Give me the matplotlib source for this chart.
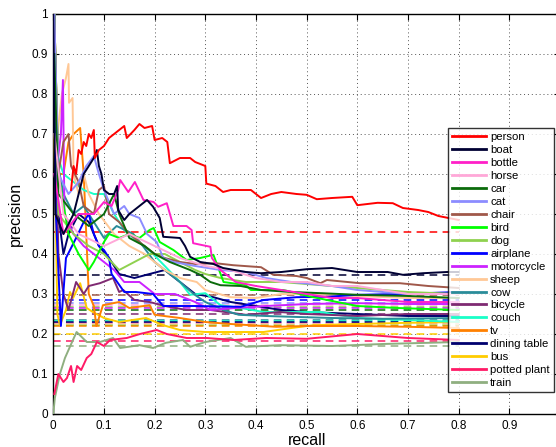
import matplotlib
matplotlib.use("Agg")
import matplotlib.pyplot as plt

# class names in legend order
classes = ["person", "boat", "bottle", "horse", "car", "cat", "chair", "bird", "dog",
           "airplane", "motorcycle", "sheep", "cow", "bicycle", "couch", "tv",
           "dining table", "bus", "potted plant", "train"]

colors = ["#FF0000", "#000033", "#FF20C8", "#FFA8D8", "#0B6B0B", "#8C8CFF", "#A0584A",
          "#00FF00", "#8FD14F", "#0000FF", "#CC22FF", "#FFC896", "#2A8C99", "#7F2A72",
          "#19FFC8", "#FF8000", "#00006E", "#FFCC00", "#FF1A66", "#8FAF80"]

# precision level of the dashed line for each class
ap_levels = [0.455, 0.348, 0.228, 0.272, 0.26, 0.278, 0.298, 0.222, 0.268, 0.285,
             0.265, 0.225, 0.235, 0.25, 0.233, 0.22, 0.23, 0.2, 0.183, 0.17]

# recall / precision
person_r = [0.035, 0.04, 0.045, 0.05, 0.055, 0.06, 0.065, 0.07, 0.075, 0.08, 0.082, 0.09, 0.1, 0.11,
            0.12, 0.13, 0.14, 0.145, 0.16, 0.17, 0.18, 0.195, 0.2, 0.215, 0.225, 0.23, 0.25, 0.27,
            0.28, 0.3, 0.302, 0.32, 0.335, 0.35, 0.37, 0.39, 0.4, 0.41, 0.43, 0.45, 0.48, 0.5,
            0.52, 0.55, 0.59, 0.6, 0.64, 0.67, 0.69, 0.72, 0.74, 0.76, 0.78, 0.8]
person_p = [0.56, 0.62, 0.6, 0.66, 0.65, 0.68, 0.67, 0.7, 0.69, 0.71, 0.64, 0.66, 0.67, 0.69,
            0.7, 0.71, 0.72, 0.69, 0.71, 0.725, 0.715, 0.72, 0.685, 0.69, 0.68, 0.627, 0.64, 0.64,
            0.63, 0.62, 0.576, 0.57, 0.555, 0.56, 0.56, 0.56, 0.55, 0.54, 0.55, 0.555, 0.55, 0.548,
            0.537, 0.54, 0.543, 0.522, 0.528, 0.527, 0.515, 0.51, 0.505, 0.495, 0.49, 0.485]

boat_r = [0.0, 0.004, 0.02, 0.04, 0.05, 0.06, 0.07, 0.08, 0.086, 0.09, 0.095, 0.1, 0.11, 0.12,
          0.126, 0.128, 0.14, 0.15, 0.17, 0.185, 0.197, 0.21, 0.217, 0.25, 0.26, 0.27, 0.29,
          0.316, 0.335, 0.38, 0.41, 0.45, 0.5, 0.55, 0.6, 0.66, 0.69, 0.73, 0.777, 0.8]
boat_p = [1.0, 0.5, 0.45, 0.5, 0.55, 0.6, 0.62, 0.64, 0.66, 0.62, 0.6, 0.56, 0.55, 0.55,
          0.57, 0.51, 0.485, 0.5, 0.52, 0.535, 0.518, 0.49, 0.443, 0.44, 0.42, 0.393, 0.38,
          0.375, 0.365, 0.355, 0.352, 0.355, 0.362, 0.365, 0.355, 0.355, 0.348, 0.352, 0.355, 0.355]

bottle_r = [0.002, 0.02, 0.05, 0.08, 0.1, 0.115, 0.128, 0.132, 0.148, 0.161, 0.178, 0.198, 0.207,
            0.224, 0.237, 0.263, 0.273, 0.276, 0.31, 0.313, 0.33, 0.36, 0.4, 0.45, 0.5, 0.55,
            0.6, 0.65, 0.7, 0.8]
bottle_p = [0.6, 0.45, 0.5, 0.5, 0.53, 0.52, 0.56, 0.585, 0.555, 0.58, 0.535, 0.53, 0.518,
            0.527, 0.47, 0.47, 0.46, 0.427, 0.418, 0.39, 0.36, 0.33, 0.32, 0.31, 0.3, 0.29,
            0.29, 0.285, 0.28, 0.28]

horse_r = [0.002, 0.02, 0.05, 0.1, 0.15, 0.2, 0.25, 0.3, 0.35, 0.4, 0.45, 0.5, 0.55, 0.6, 0.65,
           0.7, 0.8]
horse_p = [0.7, 0.5, 0.45, 0.42, 0.45, 0.42, 0.39, 0.37, 0.36, 0.34, 0.33, 0.33, 0.32, 0.32, 0.31,
           0.3, 0.3]

car_r = [0.002, 0.01, 0.04, 0.07, 0.1, 0.12, 0.13, 0.15, 0.18, 0.2, 0.23, 0.27, 0.29, 0.31, 0.33,
         0.37, 0.41, 0.47, 0.53, 0.6, 0.7, 0.8]
car_p = [0.9, 0.55, 0.5, 0.47, 0.5, 0.55, 0.5, 0.44, 0.42, 0.4, 0.38, 0.36, 0.348, 0.33, 0.322,
         0.32, 0.31, 0.305, 0.302, 0.298, 0.295, 0.29]

cat_r = [0.002, 0.01, 0.03, 0.05, 0.065, 0.08, 0.09, 0.1, 0.12, 0.14, 0.15, 0.17, 0.185, 0.204,
         0.217, 0.237, 0.28, 0.33, 0.38, 0.42, 0.47, 0.55, 0.6, 0.7, 0.8]
cat_p = [1.0, 0.6, 0.55, 0.58, 0.62, 0.645, 0.6, 0.56, 0.5, 0.52, 0.5, 0.49, 0.45, 0.43,
         0.39, 0.38, 0.37, 0.36, 0.355, 0.34, 0.33, 0.32, 0.31, 0.3, 0.3]

chair_r = [0.002, 0.01, 0.02, 0.03, 0.035, 0.05, 0.06, 0.08, 0.09, 0.1, 0.11, 0.13, 0.15, 0.18,
           0.2, 0.22, 0.25, 0.28, 0.32, 0.355, 0.41, 0.434, 0.48, 0.5, 0.527, 0.54, 0.605, 0.684,
           0.74, 0.8]
chair_p = [1.0, 0.6, 0.68, 0.7, 0.62, 0.58, 0.52, 0.5, 0.56, 0.57, 0.5, 0.48, 0.45, 0.42,
           0.4, 0.39, 0.38, 0.375, 0.377, 0.372, 0.367, 0.348, 0.345, 0.34, 0.327, 0.335, 0.327, 0.327,
           0.32, 0.315]

bird_r = [0.002, 0.01, 0.03, 0.05, 0.07, 0.08, 0.1, 0.11, 0.13, 0.15, 0.17, 0.19, 0.198, 0.21,
          0.237, 0.263, 0.29, 0.316, 0.336, 0.38, 0.39, 0.454, 0.513, 0.56, 0.6, 0.68, 0.8]
bird_p = [1.0, 0.6, 0.45, 0.4, 0.36, 0.38, 0.43, 0.45, 0.44, 0.45, 0.44, 0.46, 0.465, 0.43,
          0.41, 0.385, 0.39, 0.398, 0.33, 0.322, 0.31, 0.31, 0.292, 0.28, 0.27, 0.265, 0.26]

dog_r = [0.002, 0.01, 0.04, 0.07, 0.1, 0.13, 0.16, 0.19, 0.22, 0.25, 0.28, 0.3, 0.33, 0.38, 0.45,
         0.5, 0.55, 0.6, 0.7, 0.8]
dog_p = [1.0, 0.5, 0.45, 0.42, 0.4, 0.36, 0.38, 0.4, 0.4, 0.38, 0.36, 0.35, 0.34, 0.33, 0.33,
         0.325, 0.32, 0.315, 0.305, 0.3]

airplane_r = [0.002, 0.005, 0.015, 0.025, 0.045, 0.06, 0.07, 0.08, 0.09, 0.1, 0.11, 0.115, 0.14,
              0.163, 0.197, 0.217, 0.256, 0.28, 0.37, 0.415, 0.48, 0.54, 0.6, 0.684, 0.8]
airplane_p = [1.0, 0.5, 0.22, 0.39, 0.44, 0.48, 0.5, 0.45, 0.42, 0.41, 0.39, 0.35, 0.305,
              0.305, 0.3, 0.27, 0.27, 0.27, 0.268, 0.285, 0.292, 0.293, 0.298, 0.3, 0.305]

motorcycle_r = [0.002, 0.006, 0.015, 0.019, 0.022, 0.04, 0.06, 0.08, 0.1, 0.12, 0.14, 0.17, 0.2,
                0.24, 0.28, 0.31, 0.36, 0.42, 0.5, 0.6, 0.7, 0.8]
motorcycle_p = [1.0, 0.6, 0.7, 0.835, 0.5, 0.45, 0.42, 0.4, 0.38, 0.36, 0.33, 0.33, 0.3,
                0.3, 0.28, 0.26, 0.265, 0.27, 0.275, 0.277, 0.275, 0.275]

sheep_r = [0.002, 0.008, 0.017, 0.025, 0.03, 0.031, 0.038, 0.04, 0.05, 0.06, 0.07, 0.09, 0.12,
           0.15, 0.18, 0.2, 0.22, 0.25, 0.283, 0.3, 0.35, 0.4, 0.45, 0.5, 0.6, 0.7, 0.8]
sheep_p = [1.0, 0.7, 0.8, 0.84, 0.875, 0.778, 0.79, 0.6, 0.55, 0.6, 0.55, 0.5, 0.45,
           0.42, 0.4, 0.38, 0.36, 0.34, 0.33, 0.31, 0.292, 0.29, 0.3, 0.3, 0.295, 0.29, 0.29]

cow_r = [0.002, 0.005, 0.02, 0.04, 0.06, 0.08, 0.1, 0.125, 0.158, 0.178, 0.2, 0.22, 0.25, 0.277,
         0.3, 0.336, 0.366, 0.42, 0.47, 0.55, 0.65, 0.8]
cow_p = [1.0, 0.65, 0.55, 0.5, 0.52, 0.48, 0.44, 0.47, 0.45, 0.418, 0.38, 0.36, 0.33, 0.3,
         0.28, 0.26, 0.248, 0.245, 0.243, 0.24, 0.238, 0.24]

bicycle_r = [0.002, 0.01, 0.02, 0.03, 0.045, 0.06, 0.07, 0.092, 0.118, 0.13, 0.138, 0.16, 0.19,
             0.22, 0.263, 0.31, 0.38, 0.447, 0.5, 0.6, 0.7, 0.8]
bicycle_p = [0.9, 0.4, 0.3, 0.26, 0.33, 0.3, 0.32, 0.327, 0.34, 0.305, 0.31, 0.285, 0.28,
             0.27, 0.26, 0.26, 0.248, 0.255, 0.25, 0.245, 0.25, 0.25]

couch_r = [0.002, 0.005, 0.02, 0.04, 0.06, 0.08, 0.1, 0.12, 0.14, 0.158, 0.18, 0.197, 0.22, 0.25,
           0.27, 0.3, 0.33, 0.37, 0.415, 0.527, 0.6, 0.7, 0.8]
couch_p = [1.0, 0.66, 0.6, 0.58, 0.56, 0.55, 0.55, 0.5, 0.46, 0.44, 0.42, 0.4, 0.37, 0.33,
           0.298, 0.302, 0.272, 0.265, 0.255, 0.255, 0.24, 0.235, 0.23]

tv_r = [0.002, 0.01, 0.02, 0.03, 0.04, 0.053, 0.06, 0.065, 0.07, 0.08, 0.085, 0.098, 0.13, 0.15,
        0.19, 0.2, 0.25, 0.3, 0.35, 0.44, 0.5, 0.6, 0.7, 0.8]
tv_p = [1.0, 0.6, 0.6, 0.68, 0.7, 0.715, 0.6, 0.45, 0.3, 0.27, 0.22, 0.272, 0.28, 0.265,
        0.272, 0.248, 0.24, 0.23, 0.225, 0.218, 0.22, 0.22, 0.218, 0.215]

table_r = [0.002, 0.01, 0.02, 0.03, 0.05, 0.07, 0.09, 0.11, 0.13, 0.16, 0.19, 0.22, 0.25, 0.28,
           0.316, 0.35, 0.4, 0.45, 0.5, 0.6, 0.7, 0.8]
table_p = [1.0, 0.5, 0.4, 0.45, 0.5, 0.48, 0.42, 0.39, 0.35, 0.34, 0.35, 0.36, 0.33, 0.3,
           0.292, 0.28, 0.27, 0.26, 0.255, 0.25, 0.245, 0.245]

bus_r = [0.002, 0.008, 0.013, 0.025, 0.033, 0.039, 0.053, 0.066, 0.078, 0.1, 0.13, 0.183, 0.217,
         0.25, 0.3, 0.36, 0.415, 0.47, 0.513, 0.6, 0.7, 0.8]
bus_p = [0.7, 0.25, 0.222, 0.26, 0.305, 0.29, 0.327, 0.265, 0.255, 0.24, 0.23, 0.24, 0.222,
         0.21, 0.205, 0.205, 0.205, 0.215, 0.222, 0.225, 0.228, 0.23]

plant_r = [0.002, 0.01, 0.02, 0.027, 0.035, 0.04, 0.047, 0.055, 0.066, 0.075, 0.086, 0.1, 0.112,
           0.145, 0.171, 0.204, 0.224, 0.263, 0.303, 0.355, 0.42, 0.5, 0.6, 0.7, 0.8]
plant_p = [0.05, 0.1, 0.08, 0.09, 0.12, 0.08, 0.12, 0.11, 0.14, 0.15, 0.18, 0.17, 0.185,
           0.19, 0.2, 0.21, 0.2, 0.19, 0.19, 0.185, 0.19, 0.188, 0.2, 0.19, 0.185]

train_r = [0.0, 0.003, 0.013, 0.023, 0.037, 0.046, 0.066, 0.092, 0.118, 0.132, 0.17, 0.197, 0.222,
           0.256, 0.27, 0.3, 0.35, 0.38, 0.447, 0.55, 0.65, 0.8]
train_p = [0.0, 0.04, 0.1, 0.14, 0.18, 0.205, 0.18, 0.18, 0.19, 0.165, 0.172, 0.165, 0.178,
           0.185, 0.168, 0.18, 0.19, 0.168, 0.172, 0.17, 0.175, 0.18]

curves = [(person_r, person_p), (boat_r, boat_p), (bottle_r, bottle_p), (horse_r, horse_p),
          (car_r, car_p), (cat_r, cat_p), (chair_r, chair_p), (bird_r, bird_p), (dog_r, dog_p),
          (airplane_r, airplane_p), (motorcycle_r, motorcycle_p), (sheep_r, sheep_p),
          (cow_r, cow_p), (bicycle_r, bicycle_p), (couch_r, couch_p), (tv_r, tv_p),
          (table_r, table_p), (bus_r, bus_p), (plant_r, plant_p), (train_r, train_p)]

tick_vals = [0, 0.1, 0.2, 0.3, 0.4, 0.5, 0.6, 0.7, 0.8, 0.9, 1]
tick_text = ['0', '0.1', '0.2', '0.3', '0.4', '0.5', '0.6', '0.7', '0.8', '0.9', '1']

plt.rcParams['font.family'] = ['Liberation Sans', 'DejaVu Sans']

fig = plt.figure(figsize=(5.56, 4.47), dpi=100)
# axes run a bit past the right edge of the picture, like the cropped original
ax = fig.add_axes([53.3 / 556, 33 / 447, 506.7 / 556, 400 / 447])

# dashed level lines
for lvl, col in zip(ap_levels, colors):
    ax.plot([0, 0.8], [lvl, lvl], color=col, lw=1.1, linestyle=(0, (5, 3.5)), zorder=2)

# precision/recall curves, person on top
handles = []
for i, (r, p) in enumerate(curves):
    h, = ax.plot(r, p, color=colors[i], lw=1.4, label=classes[i], zorder=3 + (len(curves) - i) * 0.01)
    handles.append(h)

ax.set_xlim(0, 1)
ax.set_ylim(0, 1)
ax.set_xticks(tick_vals)
ax.set_yticks(tick_vals)
# the "1" on the x axis falls outside the picture
ax.set_xticklabels(tick_text[:-1] + [''])
ax.set_yticklabels(tick_text)
ax.tick_params(direction='in', top=True, right=True, length=4, labelsize=8.5, pad=4)
ax.grid(True, linestyle=(0, (1, 3)), color='#555555', lw=0.7)
for s in ax.spines.values():
    s.set_linewidth(1.0)

ax.set_xlabel("recall", fontsize=11.5, labelpad=1)
ax.set_ylabel("precision", fontsize=11.5, labelpad=6)

leg = fig.legend(handles, classes, loc='upper left', bbox_to_anchor=(448 / 556, 1 - 128 / 447),
                 fontsize=8.2, handlelength=3.0, handletextpad=0.35, labelspacing=0.26,
                 borderpad=0.35, borderaxespad=0, frameon=True, fancybox=False)
leg.get_frame().set_edgecolor('black')
leg.get_frame().set_linewidth(1.0)
for ln in leg.get_lines():
    ln.set_linewidth(2.0)

fig.savefig("out.png", dpi=100)
